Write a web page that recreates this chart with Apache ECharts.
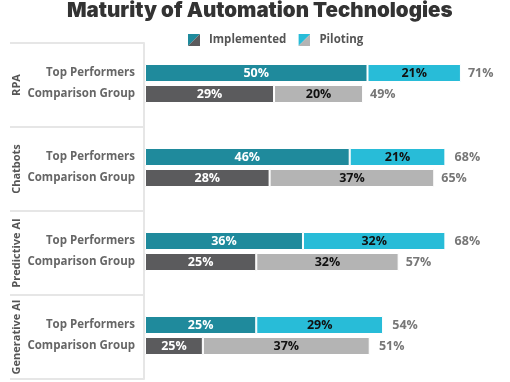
<!DOCTYPE html>
<html><head><meta charset="utf-8">
<script src="https://cdn.jsdelivr.net/npm/echarts@6/dist/echarts.min.js"></script>
<style>html,body{margin:0;padding:0;background:#fff}#c{width:510px;height:382px}</style>
</head><body><div id="c"></div>
<script>
const groups = ['RPA', 'Chatbots', 'Predictive AI', 'Generative AI'];
const rowNames = ['Top Performers', 'Comparison Group'];
const seriesNames = ['Implemented', 'Piloting'];
// bar lengths as drawn (percent)
const implementedTop = [50, 46, 35.5, 25];
const pilotingTop = [21, 21.5, 32, 28.5];
const implementedComp = [29, 28, 25, 13];
const pilotingComp = [20, 37, 32, 37.5];
// printed labels
const implementedTopLabels = ['50%', '46%', '36%', '25%'];
const pilotingTopLabels = ['21%', '21%', '32%', '29%'];
const implementedCompLabels = ['29%', '28%', '25%', '25%'];
const pilotingCompLabels = ['20%', '37%', '32%', '37%'];
const totalTop = [71, 68, 68, 54];
const totalComp = [49, 65, 57, 51];

const C = { teal: '#1f8a9c', cyan: '#28bcd8', dark: '#5b5b5d', light: '#b4b4b4' };
const FONT = 'Open Sans';

const slots = [];
groups.forEach((g, i) => { slots.push('pad-a-' + i, g + '|' + rowNames[0], g + '|' + rowNames[1], 'pad-b-' + i); });

function build(topVals, compVals, topLbl, compLbl, topColor, compColor) {
  const out = [];
  groups.forEach((g, i) => {
    out.push(null);
    out.push({ value: topVals[i], itemStyle: { color: topColor }, label: { formatter: topLbl[i] } });
    out.push({ value: compVals[i], itemStyle: { color: compColor }, label: { formatter: compLbl[i] } });
    out.push(null);
  });
  return out;
}
function buildTotals() {
  const out = [];
  groups.forEach((g, i) => { out.push(null, totalTop[i], totalComp[i], null); });
  return out;
}
function icon(a, b) {
  const svg = "<svg xmlns='http://www.w3.org/2000/svg' width='12' height='12'><polygon points='0,0 12,0 0,12' fill='" + a + "'/><polygon points='12,0 12,12 0,12' fill='" + b + "'/></svg>";
  return 'image://data:image/svg+xml;charset=utf-8,' + encodeURIComponent(svg);
}

const chart = echarts.init(document.getElementById('c'));
chart.setOption({
  animation: false,
  title: {
    text: 'Maturity of Automation Technologies', left: 67, top: 0, padding: 0,
    textStyle: { fontFamily: 'Inter', fontWeight: 900, fontSize: 20.5, color: '#333' }
  },
  legend: {
    left: 183, top: 29, itemWidth: 12, itemHeight: 12, itemGap: 12,
    data: [{ name: seriesNames[0], icon: icon(C.teal, C.dark) }, { name: seriesNames[1], icon: icon(C.cyan, C.light) }],
    textStyle: { fontFamily: FONT, fontWeight: 'bold', fontSize: 11.5, color: '#555', padding: [0, 0, 0, 4] }
  },
  grid: [
    { left: 145, top: 41.5, width: 356, height: 336 },
    { left: 10, top: 43, width: 134, height: 336 }
  ],
  xAxis: [
    { type: 'value', gridIndex: 0, min: 0, max: 80, show: false },
    { type: 'value', gridIndex: 1, min: 0, max: 1, show: false }
  ],
  yAxis: [
    {
      type: 'category', gridIndex: 0, data: slots, inverse: true,
      axisLine: { show: false }, axisTick: { show: false }, splitLine: { show: false },
      axisLabel: {
        interval: 0, margin: 10, color: '#666', fontFamily: FONT, fontWeight: 'bold', fontSize: 11.5,
        formatter: v => v.indexOf('|') >= 0 ? v.split('|')[1] : ''
      }
    },
    {
      type: 'category', gridIndex: 1, data: groups, inverse: true,
      axisLine: { show: false }, axisTick: { show: false },
      splitLine: { show: true, interval: 0, lineStyle: { color: '#e6e6e6', width: 2 } },
      axisLabel: { interval: 0, hideOverlap: false, inside: true, rotate: 90, margin: 1, color: '#555', fontFamily: FONT, fontWeight: 'bold', fontSize: 11 }
    },
    {
      type: 'category', gridIndex: 1, data: groups, inverse: true, position: 'right',
      axisLine: { show: true, lineStyle: { color: '#e6e6e6', width: 2 } },
      axisTick: { show: false }, axisLabel: { show: false }, splitLine: { show: false }
    }
  ],
  series: [
    {
      name: seriesNames[0], type: 'bar', stack: 'a', barWidth: 18, barGap: '-100%',
      itemStyle: { borderColor: '#fff', borderWidth: 1 },
      label: { show: true, position: 'inside', color: '#fff', fontFamily: FONT, fontWeight: 'bold', fontSize: 12.5 },
      data: build(implementedTop, implementedComp, implementedTopLabels, implementedCompLabels, C.teal, C.dark)
    },
    {
      name: seriesNames[1], type: 'bar', stack: 'a', barWidth: 18, barGap: '-100%',
      itemStyle: { borderColor: '#fff', borderWidth: 1 },
      label: { show: true, position: 'inside', color: '#111', fontFamily: FONT, fontWeight: 'bold', fontSize: 12.5 },
      data: build(pilotingTop, pilotingComp, pilotingTopLabels, pilotingCompLabels, C.cyan, C.light)
    },
    {
      name: 'Total', type: 'bar', barWidth: 18, barGap: '-100%', silent: true, z: 1,
      itemStyle: { color: 'rgba(0,0,0,0)' },
      label: { show: true, position: 'right', distance: 7, color: '#777', fontFamily: FONT, fontWeight: 'bold', fontSize: 12.5, formatter: p => p.value + '%' },
      data: buildTotals()
    }
  ]
});
</script></body></html>
